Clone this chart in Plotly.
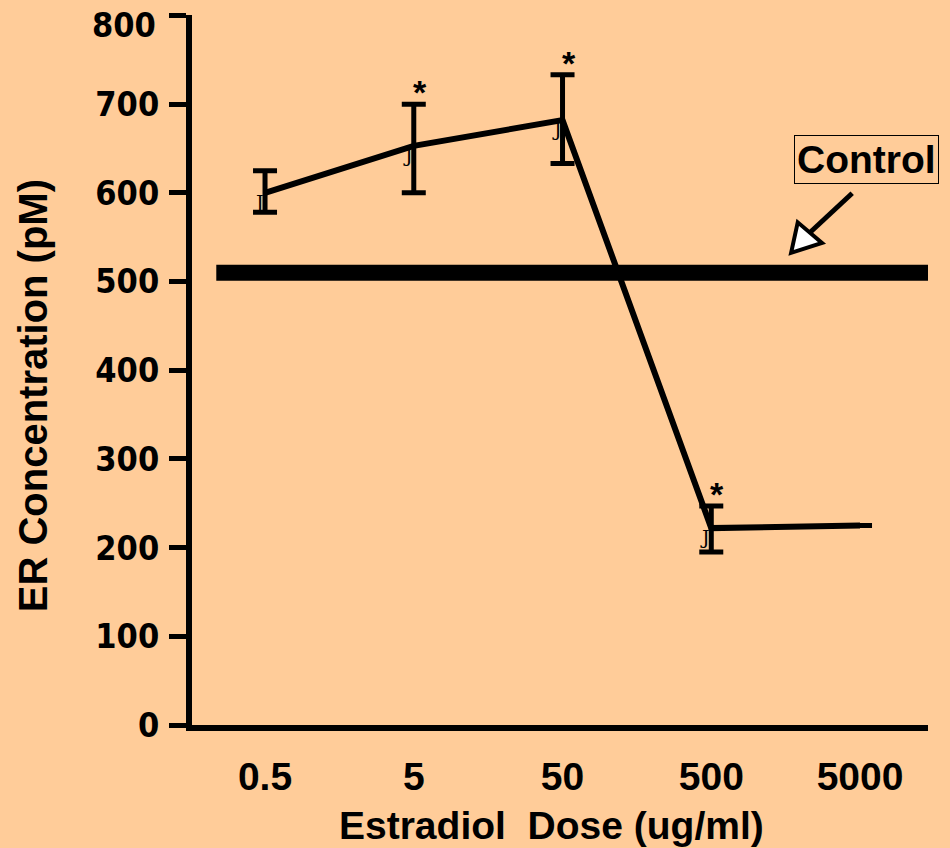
import plotly.graph_objects as go

# ---- data ----
dose_labels = ["0.5", "5", "50", "500", "5000"]
er_mean = [600, 653, 682, 222, 225]
err_upper = [625, 700, 733, 247, None]
err_lower = [578, 600, 633, 195, None]
significant = [False, True, True, True, False]
control_value = 510
y_tick_values = [0, 100, 200, 300, 400, 500, 600, 700, 800]
y_tick_labels = ["0", "100", "200", "300", "400", "500", "600", "700", "800"]

x_pos = list(range(len(dose_labels)))
plus = [(u - m) if u is not None else None for u, m in zip(err_upper, er_mean)]
minus = [(m - l) if l is not None else None for l, m in zip(err_lower, er_mean)]

BG = "#FFCC99"
ARIAL = "Liberation Sans, Arial, sans-serif"
TAHOMA = "DejaVu Sans Condensed, DejaVu Sans, sans-serif"
YTICK_FONT = dict(family=TAHOMA, size=34, color="black", weight="bold")

fig = go.Figure()

fig.add_trace(go.Scatter(
    x=x_pos, y=er_mean, mode="lines",
    line=dict(color="black", width=6),
    error_y=dict(type="data", symmetric=False, array=plus, arrayminus=minus,
                 color="black", thickness=5, width=12),
    showlegend=False, hoverinfo="skip",
))

# small point glyphs next to each measured point
for xi, m, up in zip(x_pos, er_mean, err_upper):
    if up is not None:
        fig.add_annotation(x=xi, y=m, xref="x", yref="y", text="J",
                           showarrow=False, xanchor="center", yanchor="middle",
                           xshift=-6, yshift=-9,
                           font=dict(family="DejaVu Serif, serif", size=19, color="black"))

# control level
fig.add_shape(type="line", xref="x domain", yref="y",
              x0=0.033, x1=1.0, y0=control_value, y1=control_value,
              line=dict(color="black", width=16))

# significance asterisks
for xi, up, sig in zip(x_pos, err_upper, significant):
    if sig:
        fig.add_annotation(x=xi, y=up, xref="x", yref="y", text="*",
                           showarrow=False, xanchor="center", yanchor="middle",
                           xshift=6, yshift=12,
                           font=dict(family=ARIAL, size=34, color="black", weight="bold"))

# "Control" label with arrow
fig.add_annotation(x=0.916, y=0.796, xref="paper", yref="paper", text="Control",
                   showarrow=False, xanchor="center", yanchor="middle",
                   bordercolor="black", borderwidth=1, borderpad=2,
                   font=dict(family=ARIAL, size=39, color="black", weight="bold"))
fig.add_shape(type="line", xref="paper", yref="paper",
              x0=0.897, y0=0.749, x1=0.840, y1=0.694,
              line=dict(color="black", width=5))
fig.add_shape(type="path", xref="paper", yref="paper",
              path="M0.814,0.665 L0.823,0.708 L0.856,0.679 Z",
              fillcolor="white", line=dict(color="black", width=4))

# top tick label, nudged down to stay inside the figure (as in the reference)
fig.add_annotation(x=-0.046, y=y_tick_values[-1], xref="paper", yref="y",
                   text=y_tick_labels[-1], showarrow=False,
                   xanchor="right", yanchor="middle", yshift=-10,
                   font=YTICK_FONT)

# axis titles (as annotations for exact placement)
fig.add_annotation(x=-0.216, y=0.463, xref="paper", yref="paper",
                   text="ER Concentration (pM)", textangle=-90, showarrow=False,
                   xanchor="center", yanchor="middle",
                   font=dict(family=ARIAL, size=40, color="black", weight="bold"))
fig.add_annotation(x=0.488, y=-0.141, xref="paper", yref="paper",
                   text="Estradiol\u00a0 Dose (ug/ml)", showarrow=False,
                   xanchor="center", yanchor="middle",
                   font=dict(family=ARIAL, size=39, color="black", weight="bold"))

fig.update_layout(
    width=950, height=848,
    margin=dict(l=192, r=22, t=15, b=123, autoexpand=False),
    paper_bgcolor=BG, plot_bgcolor=BG,
    showlegend=False,
    xaxis=dict(
        range=[-0.491, 4.457], automargin=False,
        tickvals=x_pos, ticktext=dose_labels,
        showline=True, linewidth=6, linecolor="black",
        ticks="", showgrid=False, zeroline=False,
        ticklabelstandoff=12,
        tickfont=dict(family=ARIAL, size=39, color="black", weight="bold"),
    ),
    yaxis=dict(
        range=[0, 800.5], automargin=False,
        tickvals=y_tick_values, ticktext=y_tick_labels[:-1] + [""],
        showline=True, linewidth=6, linecolor="black",
        ticks="outside", ticklen=17, tickwidth=5, tickcolor="black",
        showgrid=False, zeroline=False,
        ticklabelstandoff=3,
        tickfont=YTICK_FONT,
    ),
)

fig.write_html("out.html", config={"displayModeBar": False},
               post_script="document.body.style.margin='0';document.body.style.overflow='hidden';")
